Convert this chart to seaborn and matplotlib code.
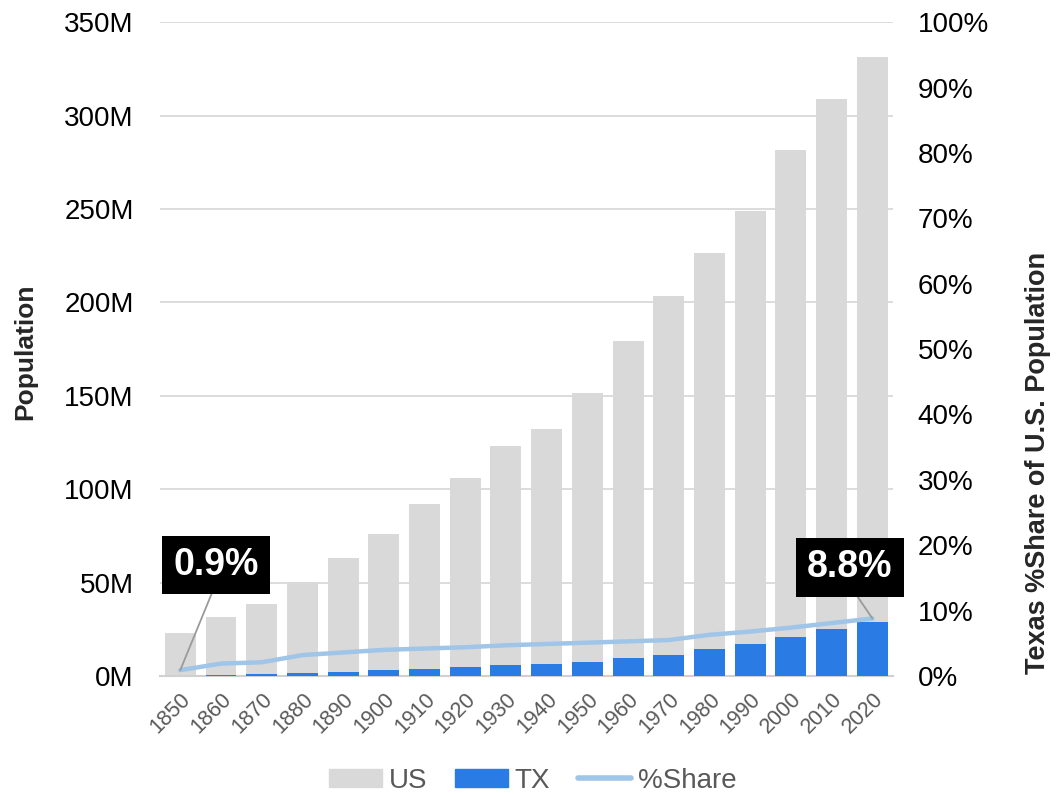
import matplotlib
matplotlib.use("Agg")
import matplotlib.pyplot as plt
import matplotlib.ticker as mticker
from matplotlib.patches import Patch
from matplotlib.lines import Line2D
import numpy as np
import pandas as pd
import seaborn as sns

# census years and populations (millions)
years = ['1850', '1860', '1870', '1880', '1890', '1900', '1910', '1920', '1930',
         '1940', '1950', '1960', '1970', '1980', '1990', '2000', '2010', '2020']
us_pop = [23.2, 31.4, 38.6, 50.2, 63.0, 76.2, 92.2, 106.0, 123.2,
          132.2, 151.3, 179.3, 203.2, 226.5, 248.7, 281.4, 308.7, 331.4]
tx_pop = [0.21, 0.60, 0.82, 1.59, 2.24, 3.05, 3.90, 4.66, 5.82,
          6.42, 7.71, 9.58, 11.20, 14.23, 16.99, 20.85, 25.15, 29.15]
share = [0.009, 0.019, 0.021, 0.032, 0.036, 0.040, 0.042, 0.044, 0.047,
         0.049, 0.051, 0.053, 0.055, 0.063, 0.068, 0.074, 0.081, 0.088]

df = pd.DataFrame({'year': years, 'US': us_pop, 'TX': tx_pop, 'share': share})
df['pos'] = np.arange(len(years))

US_COL = '#d9d9d9'
TX_COL = '#2a7be3'
LINE_COL = '#9fc5e8'
GREY_TXT = '#595959'

sns.set_style('white')
plt.rcParams['font.family'] = ['Liberation Sans', 'DejaVu Sans']

fig = plt.figure(figsize=(10.59, 7.94), dpi=100)
ax = fig.add_axes([0.151, 0.1486, 0.692, 0.8234])

#BARS - US BEHIND, TX ON TOP
sns.barplot(data=df, x='year', y='US', color=US_COL, width=0.76, saturation=1,
            linewidth=0, ax=ax, zorder=2)
sns.barplot(data=df, x='year', y='TX', color=TX_COL, width=0.76, saturation=1,
            linewidth=0, ax=ax, zorder=3)

ax.set_ylim(0, 350)
ax.set_xlim(-0.5, 17.5)
ax.yaxis.set_major_locator(mticker.MultipleLocator(50))
ax.yaxis.set_major_formatter(mticker.FuncFormatter(lambda v, p: f'{v:.0f}M'))
ax.grid(axis='y', color='#d9d9d9', lw=1.3, zorder=0)
ax.set_axisbelow(True)
for s in ['top', 'right', 'left']:
    ax.spines[s].set_visible(False)
ax.spines['bottom'].set_color('#d0d0d0')
ax.spines['bottom'].set_linewidth(1.5)
ax.tick_params(axis='y', length=0, pad=19, labelsize=20, labelcolor='black')
ax.tick_params(axis='x', length=0, pad=9, labelsize=15.5, labelcolor=GREY_TXT)
plt.setp(ax.get_xticklabels(), rotation=45, ha='right', rotation_mode='anchor')
ax.set_xlabel('')
ax.set_ylabel('')

#SECONDARY AXIS FOR %SHARE LINE
ax2 = ax.twinx()
sns.lineplot(data=df, x='pos', y='share', color=LINE_COL, lw=3.2, ax=ax2, zorder=4)
ax2.set_ylim(0, 1)
ax2.yaxis.set_major_locator(mticker.MultipleLocator(0.1))
ax2.yaxis.set_major_formatter(mticker.PercentFormatter(1.0, decimals=0))
ax2.tick_params(axis='y', length=0, pad=18, labelsize=20, labelcolor='black')
for s in ['top', 'right', 'left', 'bottom']:
    ax2.spines[s].set_visible(False)
ax2.set_xlabel('')
ax2.set_ylabel('')
ax2.set_xlim(-0.5, 17.5)

#AXIS TITLES
fig.text(0.024, 0.557, 'Population', rotation=90, ha='center', va='center',
         fontsize=19, fontweight='bold')
fig.text(0.980, 0.417, 'Texas %Share of U.S. Population', rotation=90, ha='center',
         va='center', fontsize=19.5, fontweight='bold')

#CALLOUTS FOR FIRST AND LAST SHARE
for i, tx, ty in [(0, 0.88, 0.170), (len(years) - 1, 16.45, 0.166)]:
    ax2.annotate(f'{share[i] * 100:.1f}%', xy=(df['pos'][i], share[i]), xytext=(tx, ty),
                 ha='center', va='center', color='white', fontsize=27, fontweight='bold',
                 bbox=dict(boxstyle='square,pad=0.3', fc='black', ec='none'),
                 arrowprops=dict(arrowstyle='-', color='#9a9a9a', lw=1.3,
                                 relpos=(0.5, 0), shrinkA=0, shrinkB=0),
                 zorder=6)

#LEGEND AT BOTTOM
handles = [Patch(color=US_COL, label='US'), Patch(color=TX_COL, label='TX'),
           Line2D([0], [0], color=LINE_COL, lw=4, label='%Share')]
fig.legend(handles=handles, loc='center', bbox_to_anchor=(0.503, 0.017), ncol=3,
           frameon=False, fontsize=20, labelcolor=GREY_TXT, handlelength=1.9,
           handleheight=0.6, handletextpad=0.25, columnspacing=1.0)

fig.savefig('out.png', dpi=100)
